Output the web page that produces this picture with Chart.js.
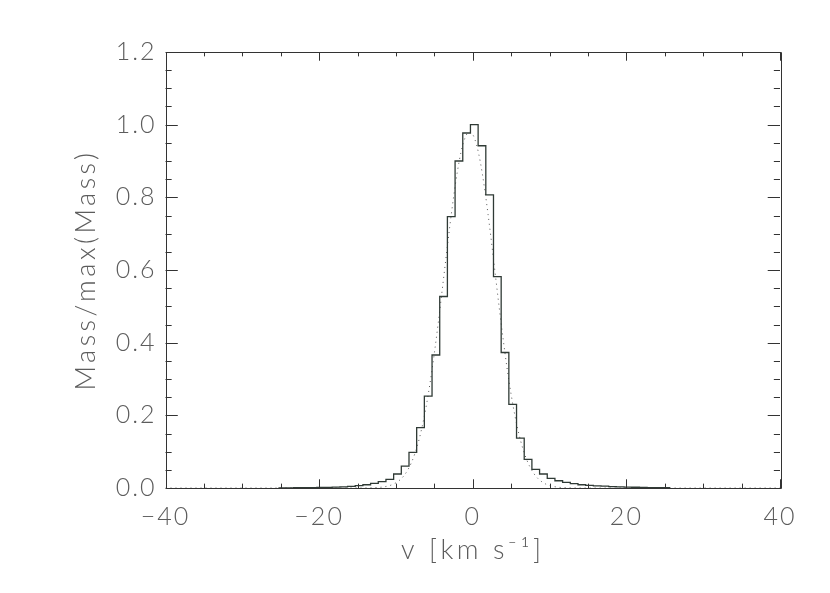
<!DOCTYPE html>
<html>
<head>
<meta charset="utf-8">
<script src="https://cdn.jsdelivr.net/npm/chart.js@4/dist/chart.umd.min.js"></script>
<style>
  html, body { margin: 0; padding: 0; background: #fff; }
  #c { display: block; }
</style>
</head>
<body>
<canvas id="c" width="830" height="593"></canvas>
<script>
// ---- data ----
const binEdges = [-25.3, -24.3, -23.3, -22.3, -21.3, -20.3, -19.3, -18.3, -17.3, -16.3,
  -15.3, -14.3, -13.3, -12.3, -11.3, -10.3, -9.3, -8.3, -7.3, -6.3,
  -5.3, -4.3, -3.3, -2.3, -1.3, -0.3, 0.7, 1.7, 2.7, 3.7,
  4.7, 5.7, 6.7, 7.7, 8.7, 9.7, 10.7, 11.7, 12.7, 13.7,
  14.7, 15.7, 16.7, 17.7, 18.7, 19.7, 20.7, 21.7, 22.7, 23.7,
  24.7, 25.7];
const massHist = [0.0005, 0.0006, 0.0008, 0.001, 0.0012, 0.0015, 0.0019, 0.0025, 0.0033, 0.0045,
  0.0064, 0.009, 0.013, 0.0174, 0.024, 0.0386, 0.06, 0.098, 0.166, 0.253,
  0.366, 0.527, 0.747, 0.90, 0.977, 1.0, 0.942, 0.807, 0.582, 0.373,
  0.230, 0.137, 0.079, 0.0515, 0.0386, 0.0266, 0.020, 0.0156, 0.012, 0.009,
  0.0072, 0.006, 0.005, 0.004, 0.0032, 0.0026, 0.002, 0.0016, 0.0012, 0.001,
  0.0008];
const fitV = [-40, -15, -12, -11, -10.5, -10, -9.5, -9, -8.5, -8, -7.5, -7, -6.5, -6, -5.5, -5,
  -4.5, -4, -3.5, -3, -2.5, -2, -1.5, -1, -0.5, 0, 0.5, 1, 1.5, 2, 2.5, 3, 3.5, 4, 4.5,
  5, 5.5, 6, 6.5, 7, 7.5, 8, 8.5, 9, 9.5, 10, 11, 12, 15, 40];
const fitMass = [0, 0.0001, 0.002, 0.0056, 0.0091, 0.0143, 0.0219, 0.0328, 0.0482, 0.069, 0.0968,
  0.1326, 0.1776, 0.232, 0.297, 0.371, 0.453, 0.541, 0.630, 0.7185, 0.800, 0.871, 0.927,
  0.964, 0.9795, 0.973, 0.944, 0.8956, 0.830, 0.752, 0.666, 0.576, 0.487, 0.403, 0.325,
  0.257, 0.198, 0.1494, 0.110, 0.0793, 0.0558, 0.0384, 0.0258, 0.017, 0.0109, 0.0068,
  0.0025, 0.0008, 0.0, 0];
const xTickValues = [-40, -20, 0, 20, 40];
const yTickValues = [0.0, 0.2, 0.4, 0.6, 0.8, 1.0, 1.2];
const xTitle = 'v [km s\u207B\u00B9]';
const yTitle = 'Mass/max(Mass)';

// ---- build datasets ----
const histPts = massHist.map((m, i) => ({ x: binEdges[i], y: m }));
histPts.push({ x: binEdges[binEdges.length - 1], y: massHist[massHist.length - 1] });
const fitPts = fitV.map((v, i) => ({ x: v, y: fitMass[i] }));

const AXIS = '#333';
const TEXT = '#5c5c5c';
const FONT = 'Lato, "DejaVu Sans", sans-serif';
const TICK_SPACING = '2px';
const TITLE_SPACING = '3.5px';

// wider letter spacing for titles (Hershey-like look)
function spaceTitles(s) {
  if (s._spaced) return;
  s._spaced = true;
  const orig = s.drawTitle;
  s.drawTitle = function () {
    const ctx = this.ctx;
    const prev = ctx.letterSpacing;
    ctx.letterSpacing = TITLE_SPACING;
    orig.apply(this, arguments);
    ctx.letterSpacing = prev;
  };
}

const spacing = {
  id: 'spacing',
  beforeDraw(chart) { chart.ctx.letterSpacing = TICK_SPACING; }
};

// inward ticks on all four sides + frame
const frame = {
  id: 'frame',
  afterDatasetsDraw(chart) {
    const { ctx, chartArea: a, scales: { x, y } } = chart;
    ctx.save();
    ctx.strokeStyle = AXIS;
    ctx.lineWidth = 1;
    ctx.beginPath();
    ctx.rect(Math.round(a.left) + 0.5, Math.round(a.top) + 0.5,
             Math.round(a.right - a.left), Math.round(a.bottom - a.top));
    ctx.stroke();
    const h = a.bottom - a.top, w = a.right - a.left;
    const xMaj = 0.02 * h, yMaj = 0.02 * w;
    ctx.beginPath();
    for (let v = x.min; v <= x.max + 1e-9; v += 5) {
      const px = Math.round(x.getPixelForValue(v)) + 0.5;
      const L = (Math.abs(v % 20) < 1e-9) ? xMaj : xMaj / 2;
      ctx.moveTo(px, a.bottom); ctx.lineTo(px, a.bottom - L);
      ctx.moveTo(px, a.top); ctx.lineTo(px, a.top + L);
    }
    for (let k = 0; k <= 24; k++) {
      const v = k * 0.05;
      const py = Math.round(y.getPixelForValue(v)) + 0.5;
      const L = (k % 4 === 0) ? yMaj : yMaj / 2;
      ctx.moveTo(a.left, py); ctx.lineTo(a.left + L, py);
      ctx.moveTo(a.right, py); ctx.lineTo(a.right - L, py);
    }
    ctx.stroke();
    ctx.restore();
  }
};

new Chart(document.getElementById('c'), {
  type: 'line',
  data: {
    datasets: [
      {
        label: 'histogram',
        data: histPts,
        stepped: 'before',
        borderColor: '#2f3a35',
        borderWidth: 1.3,
        pointRadius: 0,
        fill: false
      },
      {
        label: 'fit',
        data: fitPts,
        borderColor: '#555',
        borderWidth: 1,
        borderDash: [1, 4],
        pointRadius: 0,
        cubicInterpolationMode: 'monotone',
        fill: false
      }
    ]
  },
  options: {
    responsive: false,
    animation: false,
    devicePixelRatio: 1,
    layout: { padding: { left: 66, right: 50, top: 52, bottom: 23 } },
    plugins: { legend: { display: false }, tooltip: { enabled: false } },
    scales: {
      x: {
        type: 'linear',
        min: -40, max: 40,
        afterFit(s) { s.height = 82; spaceTitles(s); },
        afterBuildTicks(s) { s.ticks = xTickValues.map(v => ({ value: v })); },
        grid: { display: false, drawTicks: false },
        border: { display: false },
        ticks: {
          color: TEXT, padding: 14,
          font: { family: FONT, size: 25, weight: 300 },
          callback: v => String(v).replace('-', '\u2212'),
          maxRotation: 0
        },
        title: {
          display: true, text: xTitle, color: TEXT, padding: { top: 4, bottom: 4 },
          font: { family: FONT, size: 27, weight: 300 }
        }
      },
      y: {
        type: 'linear',
        min: 0, max: 1.2,
        afterFit(s) { s.width = 99.5; spaceTitles(s); },
        afterBuildTicks(s) { s.ticks = yTickValues.map(v => ({ value: v })); },
        grid: { display: false, drawTicks: false },
        border: { display: false },
        ticks: {
          color: TEXT, padding: 9,
          font: { family: FONT, size: 25, weight: 300 },
          callback: v => Number(v).toFixed(1)
        },
        title: {
          display: true, text: yTitle, color: TEXT, padding: { top: 4, bottom: 4 },
          font: { family: FONT, size: 27, weight: 300 }
        }
      }
    }
  },
  plugins: [spacing, frame]
});
</script>
</body>
</html>
